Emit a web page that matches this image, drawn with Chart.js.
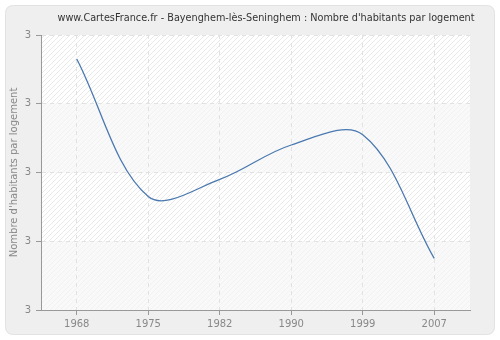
<!DOCTYPE html>
<html>
<head>
<meta charset="utf-8">
<script src="https://cdn.jsdelivr.net/npm/chart.js@4"></script>
<style>
  html, body { margin: 0; padding: 0; background: #ffffff; }
  #wrap { width: 500px; height: 340px; }
</style>
</head>
<body>
<div id="wrap"><canvas id="chart" width="500" height="340"></canvas></div>
<script>
const years = ['1968', '1975', '1982', '1990', '1999', '2007'];
const habitantsParLogement = [3.33, 2.93, 2.98, 3.08, 3.11, 2.75];
const yTicks = [2.6, 2.8, 3.0, 3.2, 3.4];

const titleText = "www.CartesFrance.fr - Bayenghem-lès-Seninghem : Nombre d'habitants par logement";
const FONT = "'DejaVu Sans', Verdana, sans-serif";

// hachures diagonales du fond
function hatchPattern(ctx, bg, line) {
    const s = 5;
    const c = document.createElement('canvas');
    c.width = s; c.height = s;
    const p = c.getContext('2d');
    p.fillStyle = bg;
    p.fillRect(0, 0, s, s);
    p.strokeStyle = line;
    p.lineWidth = 1;
    p.beginPath();
    p.moveTo(-1, s + 1); p.lineTo(s + 1, -1);
    p.moveTo(-1, 1); p.lineTo(1, -1);
    p.moveTo(s - 1, s + 1); p.lineTo(s + 1, s - 1);
    p.stroke();
    return ctx.createPattern(c, 'repeat');
}

function roundRect(ctx, x, y, w, h, r) {
    ctx.beginPath();
    ctx.moveTo(x + r, y);
    ctx.lineTo(x + w - r, y);
    ctx.quadraticCurveTo(x + w, y, x + w, y + r);
    ctx.lineTo(x + w, y + h - r);
    ctx.quadraticCurveTo(x + w, y + h, x + w - r, y + h);
    ctx.lineTo(x + r, y + h);
    ctx.quadraticCurveTo(x, y + h, x, y + h - r);
    ctx.lineTo(x, y + r);
    ctx.quadraticCurveTo(x, y, x + r, y);
    ctx.closePath();
}

const background = {
    id: 'background',
    beforeDraw(chart) {
        const ctx = chart.ctx;
        const area = chart.chartArea;
        const y = chart.scales.y;
        ctx.save();
        // cadre gris arrondi
        ctx.fillStyle = '#ffffff';
        ctx.fillRect(0, 0, chart.width, chart.height);
        roundRect(ctx, 5.5, 5.5, 489, 329, 8);
        ctx.fillStyle = '#efefef';
        ctx.fill();
        ctx.strokeStyle = '#e2e2e2';
        ctx.lineWidth = 1;
        ctx.stroke();

        // bandes alternées : hachures marquées / hachures légères
        const strong = hatchPattern(ctx, '#ffffff', '#e9e9e9');
        const light = hatchPattern(ctx, '#f9f9f9', '#f2f2f2');
        for (let i = 0; i < yTicks.length - 1; i++) {
            const top = y.getPixelForValue(yTicks[yTicks.length - 1 - i]);
            const bottom = y.getPixelForValue(yTicks[yTicks.length - 2 - i]);
            ctx.fillStyle = i % 2 === 0 ? strong : light;
            ctx.fillRect(area.left, top, area.right - area.left, bottom - top);
        }

        // titre
        ctx.fillStyle = '#333333';
        ctx.font = '9.7px ' + FONT;
        ctx.textAlign = 'center';
        ctx.textBaseline = 'middle';
        ctx.fillText(titleText, 266, 18);
        ctx.restore();
    }
};

const ctx = document.getElementById('chart').getContext('2d');

const myChart = new Chart(ctx, {
    type: 'line',
    data: {
        labels: years,
        datasets: [
            {
                data: habitantsParLogement,
                borderColor: '#4a78b0',
                borderWidth: 1.3,
                tension: 0.35,
                pointRadius: 0,
                fill: false
            }
        ]
    },
    options: {
        responsive: false,
        animation: false,
        layout: { padding: { left: 0, right: 30, top: 35, bottom: 0 } },
        scales: {
            x: {
                type: 'category',
                offset: true,
                grid: {
                    color: '#e2e2e2',
                    tickColor: '#999999',
                    tickLength: 5,
                    drawOnChartArea: true
                },
                border: { color: '#999999', width: 1, dash: [4, 4] },
                ticks: {
                    color: '#888888',
                    font: { family: FONT, size: 10 },
                    padding: 3,
                    maxRotation: 0
                },
                afterFit(scale) { scale.height = 30; }
            },
            y: {
                min: 2.6,
                max: 3.4,
                afterBuildTicks(scale) {
                    scale.ticks = yTicks.map(v => ({ value: v }));
                },
                grid: {
                    color: '#e2e2e2',
                    tickColor: '#999999',
                    tickLength: 5
                },
                border: { color: '#999999', width: 1, dash: [4, 4] },
                ticks: {
                    color: '#888888',
                    font: { family: FONT, size: 10 },
                    padding: 5,
                    callback: v => String(Math.round(v))
                },
                title: {
                    display: true,
                    text: "Nombre d'habitants par logement",
                    color: '#888888',
                    font: { family: FONT, size: 10 },
                    padding: { top: 8, bottom: 0 }
                },
                afterFit(scale) { scale.width = 41; }
            }
        },
        plugins: {
            legend: { display: false },
            tooltip: { enabled: false }
        }
    },
    plugins: [background]
});
</script>
</body>
</html>
